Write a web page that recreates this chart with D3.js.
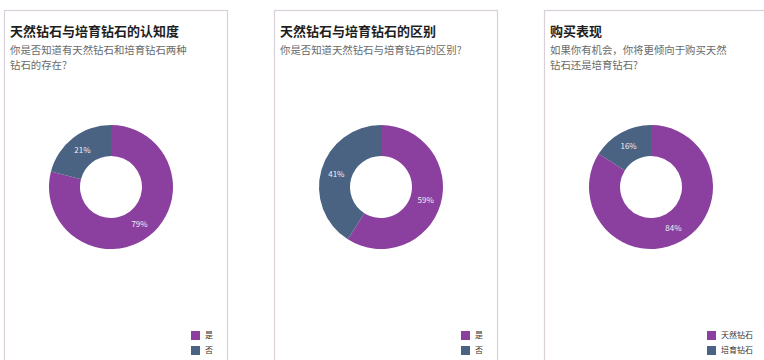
<!DOCTYPE html>
<html>
<head>
<meta charset="utf-8">
<script src="https://cdn.jsdelivr.net/npm/d3@7/dist/d3.min.js"></script>
<style>
  html, body { margin: 0; padding: 0; background: #ffffff; }
  svg { display: block; font-family: "Noto Sans CJK SC", "Noto Sans", sans-serif; }
</style>
</head>
<body>
<svg id="chart" width="764" height="360"></svg>
<script>
// Survey panels: titles, question text, answer categories and shares (%)
const titles = ["天然钻石与培育钻石的认知度", "天然钻石与培育钻石的区别", "购买表现"];
const questions = [
  ["你是否知道有天然钻石和培育钻石两种", "钻石的存在?"],
  ["你是否知道天然钻石与培育钻石的区别?"],
  ["如果你有机会，你将更倾向于购买天然", "钻石还是培育钻石?"]
];
const categories = [
  ["是", "否"],
  ["是", "否"],
  ["天然钻石", "培育钻石"]
];
const shares = [
  [79, 21],
  [59, 41],
  [84, 16]
];

const colors = ["#8b3f9f", "#4a6383"];

const svg = d3.select("#chart");

const panelW = 223, panelStep = 270, panelX0 = 4, panelY0 = 10;
const outerR = 62, innerR = 31;

const pie = d3.pie().sort(null).value(d => d.value);
const arc = d3.arc().innerRadius(innerR).outerRadius(outerR);

titles.forEach((title, i) => {
  const px = panelX0 + i * panelStep;
  const g = svg.append("g").attr("transform", `translate(${px},${panelY0})`);

  // panel frame
  g.append("rect")
    .attr("x", 0.5).attr("y", 0.5)
    .attr("width", panelW).attr("height", 400)
    .attr("fill", "#ffffff")
    .attr("stroke", "#d9d0d9")
    .attr("stroke-width", 1.2);

  // title
  g.append("text")
    .attr("x", 6).attr("y", 26)
    .attr("font-size", 13).attr("font-weight", 700)
    .attr("fill", "#1e1e1e")
    .text(title);

  // question lines
  questions[i].forEach((line, j) => {
    g.append("text")
      .attr("x", 6).attr("y", 44 + j * 15)
      .attr("font-size", 10.4)
      .attr("fill", "#6a6a6a")
      .text(line);
  });

  // donut
  const data = categories[i].map((c, k) => ({ name: c, value: shares[i][k], color: colors[k] }));
  const dg = g.append("g").attr("transform", `translate(${107},${177})`);
  const arcs = pie(data);
  dg.selectAll("path")
    .data(arcs)
    .join("path")
    .attr("d", arc)
    .attr("fill", d => d.data.color);
  dg.selectAll("text.pct")
    .data(arcs)
    .join("text")
    .attr("class", "pct")
    .attr("transform", d => `translate(${arc.centroid(d)})`)
    .attr("text-anchor", "middle")
    .attr("dy", "0.35em")
    .attr("font-size", 8)
    .attr("fill", "#f2eef4")
    .text(d => d.data.value + "%");

  // legend, right-aligned inside the panel
  const lg = g.append("g");
  const items = lg.selectAll("g.item")
    .data(data)
    .join("g")
    .attr("class", "item")
    .attr("transform", (d, k) => `translate(0,${321 + k * 15})`);
  items.append("rect")
    .attr("width", 9).attr("height", 9)
    .attr("fill", d => d.color);
  items.append("text")
    .attr("x", 14).attr("y", 4.5)
    .attr("dy", "0.35em")
    .attr("font-size", 8)
    .attr("fill", "#333333")
    .text(d => d.name);
  const bb = lg.node().getBBox();
  lg.attr("transform", `translate(${panelW - 14 - bb.width},0)`);
});
</script>
</body>
</html>
